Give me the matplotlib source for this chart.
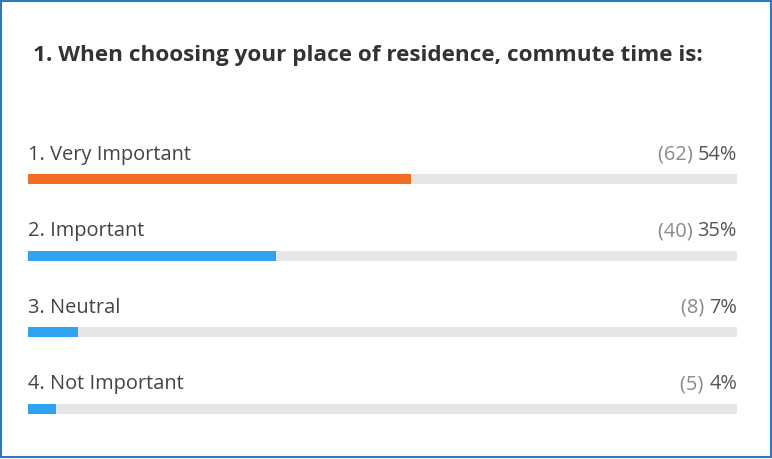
import matplotlib.pyplot as plt
from matplotlib.patches import Rectangle

# survey data
title = "1. When choosing your place of residence, commute time is:"
answers = ["1. Very Important", "2. Important", "3. Neutral", "4. Not Important"]
counts = [62, 40, 8, 5]
percents = [54, 35, 7, 4]
bar_colors = ["#f26c22", "#2ea3f2", "#2ea3f2", "#2ea3f2"]

plt.rcParams['font.family'] = ['Open Sans', 'DejaVu Sans']

W, H = 772, 460
fig = plt.figure(figsize=(W / 100, H / 100), dpi=100)
fig.patch.set_facecolor("white")

# blue frame round the card
fig.add_artist(Rectangle((0.5 / W, 2.5 / H), (W - 1.5) / W, (H - 4.5) / H,
                         transform=fig.transFigure, fill=False,
                         edgecolor="#2b79c2", linewidth=1.5))

fig.text(33 / W, 1 - 56 / H, title, fontsize=16.2, fontweight="bold",
         color="#333333", va="center", ha="left")

ax = fig.add_axes([28 / W, 0, 709 / W, 1])
ax.set_xlim(0, 100)
ax.set_ylim(H, 0)
ax.axis("off")

for i, (ans, cnt, pct, col) in enumerate(zip(answers, counts, percents, bar_colors)):
    yc = 180 + i * 76.5
    ax.barh(yc, 100, height=10, left=0, color="#e6e6e6", linewidth=0)
    ax.barh(yc, pct, height=10, left=0, color=col, linewidth=0)
    ax.text(0, yc - 25, ans, fontsize=14.4, color="#444444", va="center", ha="left")
    p = ax.text(100, yc - 25, f"{pct}%", fontsize=14.4, color="#555555", va="center", ha="right")
    ax.annotate(f"({cnt}) ", xy=(0, 0.5), xycoords=p, fontsize=14.4, color="#8a8a8a",
                va="center", ha="right")

fig.savefig("out.png", dpi=100)
